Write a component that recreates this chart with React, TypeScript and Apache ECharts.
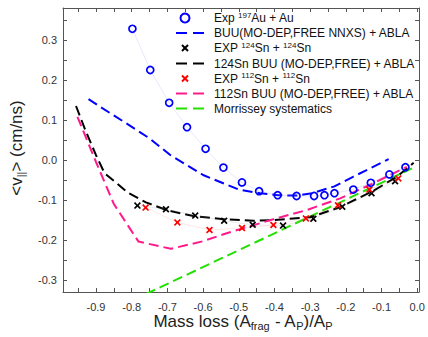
import React, { useEffect, useRef } from 'react';
import * as echarts from 'echarts';

// ---- data ----
const auExpX = [-0.798, -0.748, -0.695, -0.645, -0.593, -0.543, -0.491, -0.443, -0.391, -0.338, -0.289, -0.26, -0.232, -0.179, -0.13, -0.078, -0.033];
const auExpY = [0.328, 0.225, 0.143, 0.082, 0.028, -0.019, -0.056, -0.078, -0.088, -0.09, -0.09, -0.088, -0.083, -0.074, -0.057, -0.036, -0.018];

const auBuuX = [-0.921, -0.86, -0.786, -0.75, -0.692, -0.6, -0.5, -0.44, -0.39, -0.34, -0.295, -0.232, -0.18, -0.13, -0.08];
const auBuuY = [0.152, 0.117, 0.075, 0.054, 0.0125, -0.0375, -0.074, -0.083, -0.088, -0.089, -0.083, -0.066, -0.042, -0.02, 0.002];

const sn124ExpX = [-0.784, -0.704, -0.622, -0.541, -0.461, -0.376, -0.291, -0.21, -0.128, -0.062];
const sn124ExpY = [-0.114, -0.123, -0.139, -0.152, -0.162, -0.164, -0.147, -0.117, -0.083, -0.053];

const sn124BuuX = [-0.956, -0.93, -0.9, -0.876, -0.81, -0.76, -0.7, -0.627, -0.543, -0.459, -0.403, -0.3, -0.216, -0.123, -0.057, -0.01];
const sn124BuuY = [0.135, 0.075, 0.012, -0.033, -0.082, -0.106, -0.126, -0.14, -0.148, -0.152, -0.15, -0.143, -0.118, -0.077, -0.042, -0.007];

const sn112ExpX = [-0.761, -0.672, -0.582, -0.491, -0.403, -0.312, -0.222, -0.134, -0.053];
const sn112ExpY = [-0.119, -0.156, -0.175, -0.17, -0.1625, -0.146, -0.113, -0.074, -0.046];

const sn112BuuX = [-0.952, -0.9, -0.85, -0.781, -0.69, -0.6, -0.534, -0.459, -0.403, -0.309, -0.216, -0.123, -0.029];
const sn112BuuY = [0.108, -0.005, -0.11, -0.204, -0.222, -0.203, -0.183, -0.163, -0.148, -0.125, -0.096, -0.058, -0.017];

const morrisseyX = [-0.76, -0.015];
const morrisseyY = [-0.335, -0.021];

const xLabelVals = [-0.9, -0.8, -0.7, -0.6, -0.5, -0.4, -0.3, -0.2, -0.1, 0.0];
const xTickVals = [-0.95, -0.9, -0.85, -0.8, -0.75, -0.7, -0.65, -0.6, -0.55, -0.5, -0.45, -0.4, -0.35, -0.3, -0.25, -0.2, -0.15, -0.1, -0.05, 0.0];
const yLabelVals = [-0.3, -0.2, -0.1, 0.0, 0.1, 0.2, 0.3];
const yTickVals = [-0.3, -0.25, -0.2, -0.15, -0.1, -0.05, 0.0, 0.05, 0.1, 0.15, 0.2, 0.25, 0.3, 0.35];

const legendLabels = [
  'Exp {sup|197}Au + Au',
  'BUU(MO-DEP,FREE NNXS) + ABLA',
  'EXP {sup|124}Sn + {sup|124}Sn',
  '124Sn BUU (MO-DEP,FREE) + ABLA',
  'EXP {sup|112}Sn + {sup|112}Sn',
  '112Sn BUU (MO-DEP,FREE) + ABLA',
  'Morrissey systematics',
];
const xTitle = 'Mass loss (A{sub|frag} - A{sub|P})/A{sub|P}';
const yTitle = '<v{sub|||}> (cm/ns)';

const BLUE = '#0000ff';
const BLACK = '#000000';
const RED = '#ff0000';
const PINK = '#ff1a8c';
const GREEN = '#22e000';

const pairs = (xs: number[], ys: number[]) => xs.map((x, i) => [x, ys[i]]);

const FONT = '"Liberation Sans", Arial, sans-serif';
const crossPath = 'path://M0,1.7L1.7,0L5,3.3L8.3,0L10,1.7L6.7,5L10,8.3L8.3,10L5,6.7L1.7,10L0,8.3L3.3,5Z';

export default function App() {
  const ref = useRef<HTMLDivElement>(null);
  useEffect(() => {
    const chart = echarts.init(ref.current!, null, { renderer: 'svg' });
    const XMIN = -0.9925, XMAX = 0.005, YMIN = -0.33, YMAX = 0.38;
    const axisLine = { show: true, onZero: false, lineStyle: { color: '#555', width: 1 } };
    const fmt = (v: number) => (Math.abs(v) < 1e-9 ? '0.0' : v.toFixed(1));

    const dashed = (name: string, xs: number[], ys: number[], color: string) => ({
      name,
      type: 'line',
      data: pairs(xs, ys),
      symbol: 'none',
      lineStyle: { color, width: 2, type: [10, 5] },
      z: 3,
    });
    const markers = (name: string, xs: number[], ys: number[], color: string, lineColor: string, circle: boolean) => ({
      name,
      type: 'line',
      data: pairs(xs, ys),
      symbol: circle ? 'circle' : crossPath,
      symbolSize: 7,
      showSymbol: true,
      lineStyle: { color: lineColor, width: 0.8, opacity: 0.25 },
      itemStyle: circle
        ? { color: 'rgba(255,255,255,0)', borderColor: color, borderWidth: 1.7 }
        : { color, borderWidth: 0 },
      z: 4,
    });

    // legend drawn with graphic elements
    const rowY = [18, 33, 48, 63.5, 78.5, 93.5, 108.5];
    const iconX0 = 176, iconX1 = 204, mX = 185, textX = 214;
    const legendIcon = (i: number): any[] => {
      const y = rowY[i];
      const dash = (color: string) => [
        { type: 'line', shape: { x1: iconX0, y1: y, x2: iconX0 + 11, y2: y }, style: { stroke: color, lineWidth: 2 } },
        { type: 'line', shape: { x1: iconX0 + 17, y1: y, x2: iconX1, y2: y }, style: { stroke: color, lineWidth: 2 } },
      ];
      const cross = (color: string) => [
        { type: 'line', shape: { x1: mX - 3, y1: y - 3, x2: mX + 3, y2: y + 3 }, style: { stroke: color, lineWidth: 2 } },
        { type: 'line', shape: { x1: mX - 3, y1: y + 3, x2: mX + 3, y2: y - 3 }, style: { stroke: color, lineWidth: 2 } },
      ];
      switch (i) {
        case 0: return [{ type: 'circle', shape: { cx: mX, cy: y, r: 4.5 }, style: { fill: 'none', stroke: BLUE, lineWidth: 2 } }];
        case 1: return dash(BLUE);
        case 2: return cross(BLACK);
        case 3: return dash(BLACK);
        case 4: return cross(RED);
        case 5: return dash(PINK);
        default: return dash(GREEN);
      }
    };
    const legendEls: any[] = [];
    legendLabels.forEach((t, i) => {
      legendEls.push(...legendIcon(i));
      legendEls.push({
        type: 'text',
        x: textX,
        y: rowY[i],
        style: {
          text: t,
          fontSize: 12,
          fontFamily: FONT,
          fill: '#111',
          verticalAlign: 'middle',
          lineHeight: 14,
          rich: { sup: { fontSize: 8, fontFamily: FONT, fill: '#111', verticalAlign: 'top', lineHeight: 8 } },
        },
        z: 10,
      });
    });

    const tickStyle = { show: true, inside: true, length: 4, lineStyle: { color: '#555' } };
    const option: any = {
      animation: false,
      backgroundColor: '#fff',
      grid: { left: 63, right: 9, top: 8, bottom: 45, outerBoundsMode: 'none', containLabel: false },
      xAxis: [
        {
          type: 'value', min: XMIN, max: XMAX, position: 'bottom',
          axisLine,
          axisTick: { ...tickStyle, customValues: xTickVals },
          axisLabel: { customValues: xLabelVals, formatter: fmt, fontSize: 11, fontFamily: FONT, color: '#333', margin: 9 },
          splitLine: { show: false },
        },
        {
          type: 'value', min: XMIN, max: XMAX, position: 'top',
          axisLine,
          axisTick: { ...tickStyle, customValues: xTickVals },
          axisLabel: { show: false },
          splitLine: { show: false },
        },
      ],
      yAxis: [
        {
          type: 'value', min: YMIN, max: YMAX, position: 'left',
          axisLine,
          axisTick: { ...tickStyle, customValues: yTickVals },
          axisLabel: { customValues: yLabelVals, formatter: fmt, fontSize: 11, fontFamily: FONT, color: '#333', margin: 6 },
          splitLine: { show: false },
        },
        {
          type: 'value', min: YMIN, max: YMAX, position: 'right',
          axisLine,
          axisTick: { ...tickStyle, customValues: yTickVals },
          axisLabel: { show: false },
          splitLine: { show: false },
        },
      ],
      series: [
        dashed('Morrissey systematics', morrisseyX, morrisseyY, GREEN),
        dashed('BUU(MO-DEP,FREE NNXS) + ABLA', auBuuX, auBuuY, BLUE),
        dashed('124Sn BUU (MO-DEP,FREE) + ABLA', sn124BuuX, sn124BuuY, BLACK),
        dashed('112Sn BUU (MO-DEP,FREE) + ABLA', sn112BuuX, sn112BuuY, PINK),
        markers('Exp 197Au + Au', auExpX, auExpY, BLUE, '#8888ff', true),
        markers('EXP 124Sn + 124Sn', sn124ExpX, sn124ExpY, BLACK, '#999999', false),
        markers('EXP 112Sn + 112Sn', sn112ExpX, sn112ExpY, RED, '#ff8888', false),
      ],
      graphic: [
        ...legendEls,
        {
          type: 'text', x: 243, y: 321,
          style: {
            text: xTitle, align: 'center', verticalAlign: 'middle',
            fontSize: 17, fontFamily: FONT, fill: '#222', lineHeight: 20,
            rich: { sub: { fontSize: 11, fontFamily: FONT, fill: '#222', verticalAlign: 'bottom', lineHeight: 11 } },
          },
        },
        {
          type: 'text', x: 16, y: 148, rotation: Math.PI / 2,
          style: {
            text: yTitle, align: 'center', verticalAlign: 'middle',
            fontSize: 17, fontFamily: FONT, fill: '#222', lineHeight: 20,
            rich: { sub: { fontSize: 11, fontFamily: FONT, fill: '#222', verticalAlign: 'bottom', lineHeight: 11 } },
          },
        },
      ],
    };
    chart.setOption(option);
    return () => chart.dispose();
  }, []);
  return <div ref={ref} style={{ width: 428, height: 337, position: 'absolute', left: 0, top: 0 }} />;
}
